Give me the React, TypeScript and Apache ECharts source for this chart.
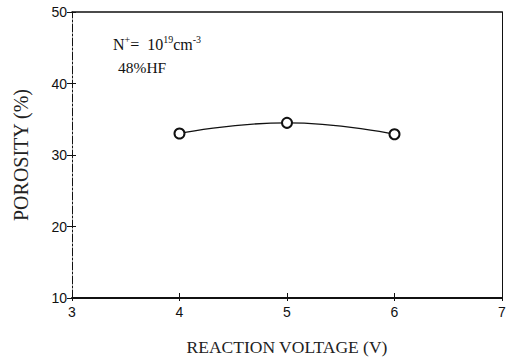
import React, { useEffect, useRef } from "react";
import * as echarts from "echarts";

const voltages = [4, 5, 6];
const porosity = [33.0, 34.5, 32.9];
const xTicks = [3, 4, 5, 6, 7];
const yTicks = [10, 20, 30, 40, 50];
const xTitle = "REACTION VOLTAGE (V)";
const yTitle = "POROSITY (%)";
const noteLine2 = "48%HF";

export default function App() {
  const ref = useRef<HTMLDivElement>(null);
  useEffect(() => {
    if (!ref.current) return;
    const chart = echarts.init(ref.current, undefined, { renderer: "svg" });
    const serif = "'Liberation Serif', 'DejaVu Serif', serif";
    const sans = "'Liberation Sans', Arial, sans-serif";
    const xMin = xTicks[0];
    const xMax = xTicks[xTicks.length - 1];
    const yMin = yTicks[0];
    const yMax = yTicks[yTicks.length - 1];
    chart.setOption({
      animation: false,
      backgroundColor: "#fff",
      grid: { left: 72, right: 12, top: 12, bottom: 62 },
      xAxis: [
        {
          type: "value",
          min: xMin,
          max: xMax,
          interval: 1,
          position: "bottom",
          axisLine: { show: true, lineStyle: { color: "#111", width: 2 } },
          axisTick: { show: true, inside: true, length: 5, lineStyle: { color: "#111" } },
          axisLabel: { color: "#111", fontSize: 14, fontFamily: sans, margin: 7 },
          splitLine: { show: false },
          name: xTitle,
          nameLocation: "middle",
          nameGap: 40,
          nameTextStyle: { color: "#222", fontSize: 17.5, fontFamily: serif },
        },
        {
          type: "value",
          min: xMin,
          max: xMax,
          interval: 1,
          position: "top",
          axisLine: { show: true, lineStyle: { color: "#111", width: 1.5 } },
          axisTick: { show: false },
          axisLabel: { show: false },
          splitLine: { show: false },
        },
        {
          type: "value",
          min: xMin,
          max: xMax,
          interval: 1,
          position: "bottom",
          offset: 0,
          axisLine: { show: false },
          axisTick: { show: true, inside: false, length: 3, lineStyle: { color: "#111" } },
          axisLabel: { show: false },
          splitLine: { show: false },
        },
      ],
      yAxis: [
        {
          type: "value",
          min: yMin,
          max: yMax,
          interval: 10,
          position: "left",
          axisLine: { show: true, lineStyle: { color: "#111", width: 1, type: [8, 2, 2, 2] } },
          axisTick: { show: true, inside: false, length: 5, lineStyle: { color: "#111" } },
          axisLabel: { color: "#111", fontSize: 14, fontFamily: sans, margin: 5 },
          splitLine: { show: false },
          name: yTitle,
          nameLocation: "middle",
          nameGap: 41,
          nameTextStyle: { color: "#222", fontSize: 20, fontFamily: serif },
        },
        {
          type: "value",
          min: yMin,
          max: yMax,
          interval: 10,
          position: "right",
          axisLine: { show: true, lineStyle: { color: "#111", width: 1 } },
          axisTick: { show: false },
          axisLabel: { show: false },
          splitLine: { show: false },
        },
        {
          type: "value",
          min: yMin,
          max: yMax,
          interval: 10,
          position: "left",
          offset: 0,
          axisLine: { show: false },
          axisTick: { show: true, inside: true, length: 4, lineStyle: { color: "#111" } },
          axisLabel: { show: false },
          splitLine: { show: false },
        },
      ],
      graphic: [
        {
          type: "text",
          left: 113,
          top: 34,
          style: {
            text: "{b|N}{s|+}{b|=  10}{s|19}{b|cm}{s|-3}",
            rich: {
              b: { fontSize: 16, fontFamily: serif, fill: "#111", verticalAlign: "bottom", lineHeight: 18 },
              s: { fontSize: 10, fontFamily: serif, fill: "#111", verticalAlign: "top", lineHeight: 18, padding: [0, 0, 8, 0] },
            },
          },
        },
        {
          type: "text",
          left: 118,
          top: 59,
          style: { text: noteLine2, fontSize: 15.5, fontFamily: serif, fill: "#111" },
        },
      ],
      series: [
        {
          type: "line",
          data: voltages.map((v, i) => [v, porosity[i]]),
          smooth: 0.5,
          symbol: "emptyCircle",
          symbolSize: 10,
          lineStyle: { color: "#111", width: 1.3 },
          itemStyle: { color: "#111", borderColor: "#111", borderWidth: 1.5 },
        },
      ],
    });
    return () => chart.dispose();
  }, []);
  return <div ref={ref} style={{ width: 514, height: 361, position: "absolute", left: 0, top: 0 }} />;
}
